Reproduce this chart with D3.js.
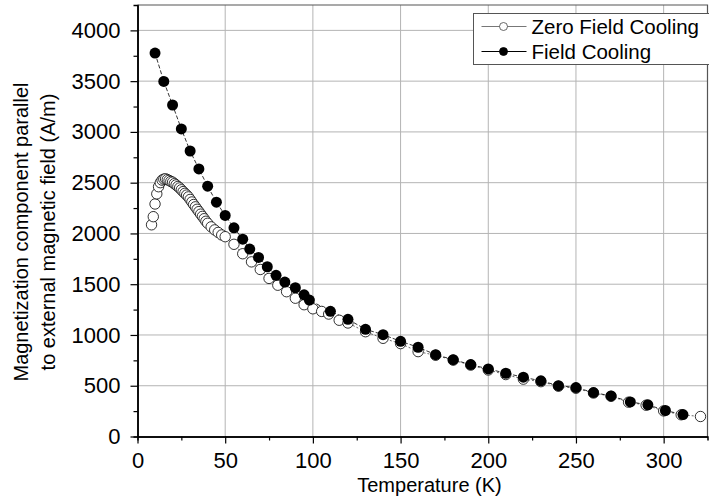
<!DOCTYPE html>
<html>
<head>
<meta charset="utf-8">
<script src="https://cdn.jsdelivr.net/npm/d3@7"></script>
<style>
  body { margin: 0; background: #fff; }
  svg { font-family: "Liberation Sans", Arial, sans-serif; }
  .grid line { stroke: #b4b4b4; stroke-width: 1; }
</style>
</head>
<body>
<script>
// zero field cooling (open circles)
var zfcT = [8, 9, 10, 11, 12, 13, 14, 15, 16, 17, 18, 19, 20, 21, 22, 23, 24, 25, 26, 27, 28, 29, 30,
  31, 32, 33, 34, 35, 36, 37, 38, 39, 40, 42, 44, 46, 48, 50, 55, 60, 65, 70, 75, 80, 85, 90, 95,
  100, 105, 109, 115, 120, 130, 140, 150, 160, 170, 180, 190, 200, 210, 220, 230, 240, 250, 260,
  270, 280, 290, 300, 310, 321];
var zfcM = [2085, 2165, 2290, 2390, 2460, 2500, 2525, 2535, 2538, 2530, 2522, 2512, 2505, 2490, 2478,
  2462, 2448, 2430, 2412, 2395, 2378, 2360, 2335, 2310, 2285, 2262, 2238, 2215, 2190, 2168, 2145,
  2120, 2100, 2065, 2035, 2010, 1985, 1968, 1893, 1800, 1720, 1645, 1557, 1490, 1426, 1362, 1298,
  1258, 1232, 1206, 1145, 1118, 1032, 967, 915, 836, 800, 752, 703, 655, 610, 565, 540, 495, 475,
  428, 396, 338, 308, 252, 214, 197];

// field cooling (filled circles)
var fcT = [10, 15, 20, 25, 30, 35, 40, 45, 50, 55, 60, 64, 69, 74, 79, 84, 90, 95, 98, 110, 120,
  130, 140, 150, 160, 170, 180, 190, 200, 210, 220, 230, 240, 250, 260, 270, 281, 291, 301, 311];
var fcM = [3776, 3497, 3265, 3029, 2812, 2635, 2465, 2308, 2177, 2055, 1944, 1846, 1764, 1672, 1587,
  1521, 1465, 1396, 1344, 1233, 1154, 1056, 1003, 938, 879, 806, 757, 708, 666, 623, 584, 548, 501,
  482, 433, 400, 341, 312, 256, 216];

var xTicks = [0, 50, 100, 150, 200, 250, 300];
var yTicks = [0, 500, 1000, 1500, 2000, 2500, 3000, 3500, 4000];
var seriesNames = ["Zero Field Cooling", "Field Cooling"];

var width = 709, height = 497;
var pLeft = 137.5, pRight = 707.5, pTop = 5, pBottom = 436.5;

var svg = d3.select("body").append("svg")
    .attr("width", width)
    .attr("height", height);

var x = d3.scaleLinear().domain([0, 325]).range([pLeft, pRight]);
var y = d3.scaleLinear().domain([0, 4250]).range([pBottom, pTop]);

// grid
svg.append("g").attr("class", "grid")
    .selectAll("line").data(xTicks.slice(1)).enter().append("line")
    .attr("x1", d => x(d)).attr("x2", d => x(d))
    .attr("y1", pTop).attr("y2", pBottom);
svg.append("g").attr("class", "grid")
    .selectAll("line").data(yTicks.slice(1)).enter().append("line")
    .attr("x1", pLeft).attr("x2", pRight)
    .attr("y1", d => y(d)).attr("y2", d => y(d));

// frame top / right
svg.append("path")
    .attr("d", "M" + pLeft + "," + pTop + "H" + pRight + "V" + pBottom)
    .attr("fill", "none").attr("stroke", "#555").attr("stroke-width", 1.2);

// minor ticks
var xAxisMinor = d3.axisBottom(x).tickValues(d3.range(25, 325, 50)).tickSize(4).tickFormat("");
var yAxisMinor = d3.axisLeft(y).tickValues(d3.range(250, 4250, 500)).tickSize(4).tickFormat("");
svg.append("g").attr("transform", "translate(0," + pBottom + ")").call(xAxisMinor);
svg.append("g").attr("transform", "translate(" + pLeft + ",0)").call(yAxisMinor);

var xAxis = d3.axisBottom(x).tickValues(xTicks).tickSize(7).tickSizeOuter(0).tickPadding(9)
    .tickFormat(d3.format("d"));
var yAxis = d3.axisLeft(y).tickValues(yTicks).tickSize(7).tickSizeOuter(0).tickPadding(10)
    .tickFormat(d3.format("d"));

var gx = svg.append("g").attr("transform", "translate(0," + pBottom + ")").call(xAxis);
var gy = svg.append("g").attr("transform", "translate(" + pLeft + ",0)").call(yAxis);

svg.selectAll(".domain").attr("stroke", "#000").attr("stroke-width", 1.5);
svg.selectAll(".tick line").attr("stroke", "#000").attr("stroke-width", 1.2);
gx.attr("font-family", null).attr("font-size", 22);
gy.attr("font-family", null).attr("font-size", 22);
gx.selectAll("text").attr("fill", "#000");
gy.selectAll("text").attr("fill", "#000");

// axis titles
svg.append("text")
    .attr("x", (pLeft + pRight) / 2 + 7)
    .attr("y", 492)
    .attr("text-anchor", "middle")
    .attr("font-size", 20)
    .text("Temperature (K)");

var yTitle = svg.append("text")
    .attr("transform", "translate(28,232) rotate(-90)")
    .attr("text-anchor", "middle")
    .attr("font-size", 20);
yTitle.append("tspan").attr("x", 0).attr("y", 0).text("Magnetization component parallel");
yTitle.append("tspan").attr("x", 0).attr("y", 27).text("to external magnetic field (A/m)");

// data
var zfc = zfcT.map((t, i) => [t, zfcM[i]]);
var fc = fcT.map((t, i) => [t, fcM[i]]);
var line = d3.line().x(d => x(d[0])).y(d => y(d[1]));

svg.append("path").datum(zfc).attr("d", line)
    .attr("fill", "none").attr("stroke", "#444").attr("stroke-width", 0.8)
    .attr("stroke-dasharray", "2,2");
svg.append("path").datum(fc).attr("d", line)
    .attr("fill", "none").attr("stroke", "#000").attr("stroke-width", 0.8)
    .attr("stroke-dasharray", "4,2");

svg.append("g").selectAll("circle").data(zfc).enter().append("circle")
    .attr("cx", d => x(d[0])).attr("cy", d => y(d[1])).attr("r", 5.2)
    .attr("fill", "#fff").attr("stroke", "#000").attr("stroke-width", 0.8);
svg.append("g").selectAll("circle").data(fc).enter().append("circle")
    .attr("cx", d => x(d[0])).attr("cy", d => y(d[1])).attr("r", 5.5)
    .attr("fill", "#000");

// legend
var lg = svg.append("g").attr("transform", "translate(473.5,13.5)");
lg.append("rect").attr("width", 236).attr("height", 51)
    .attr("fill", "#fff").attr("stroke", "#555").attr("stroke-width", 1);
seriesNames.forEach(function (name, i) {
    var cy = 13 + i * 25;
    lg.append("line").attr("x1", 8).attr("x2", 53).attr("y1", cy).attr("y2", cy)
        .attr("stroke", i === 0 ? "#777" : "#000").attr("stroke-width", 1);
    lg.append("circle").attr("cx", 30).attr("cy", cy).attr("r", 4)
        .attr("fill", i === 0 ? "#fff" : "#000")
        .attr("stroke", i === 0 ? "#444" : "#000").attr("stroke-width", 0.8);
    lg.append("text").attr("x", 58).attr("y", cy + 7)
        .attr("font-size", 20.5).text(name);
});
</script>
</body>
</html>
